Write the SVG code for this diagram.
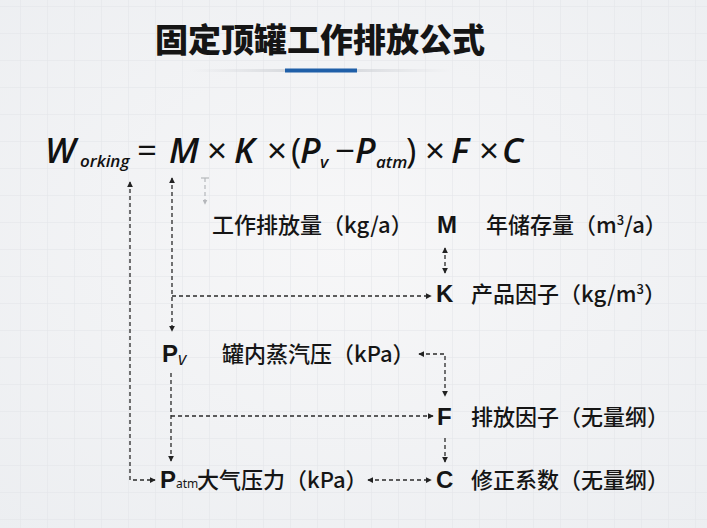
<svg xmlns="http://www.w3.org/2000/svg" width="707" height="528" viewBox="0 0 707 528">
  <defs>
    <pattern id="grid" width="27" height="27" patternUnits="userSpaceOnUse" x="20" y="6">
      <path d="M0 0H27M0 0V27" fill="none" stroke="#e2e4e8" stroke-width="1"/>
    </pattern>
    <radialGradient id="bg" cx="0.5" cy="0.45" r="0.75">
      <stop offset="0" stop-color="#f7f7f8"/>
      <stop offset="1" stop-color="#eceef1"/>
    </radialGradient>
    <linearGradient id="rule" x1="0" x2="1" y1="0" y2="0">
      <stop offset="0" stop-color="#d5d7db" stop-opacity="0"/>
      <stop offset="0.5" stop-color="#cdd0d5"/>
      <stop offset="1" stop-color="#d5d7db" stop-opacity="0"/>
    </linearGradient>
    <marker id="ah" viewBox="0 0 8 8" refX="7" refY="4" markerWidth="6" markerHeight="6" orient="auto-start-reverse" markerUnits="userSpaceOnUse">
      <path d="M0 0L8 4L0 8Z" fill="#222"/>
    </marker>
    <marker id="ahg" viewBox="0 0 8 8" refX="7" refY="4" markerWidth="5" markerHeight="5" orient="auto-start-reverse" markerUnits="userSpaceOnUse">
      <path d="M0 0L8 4L0 8Z" fill="#b5b7bb"/>
    </marker>
  </defs>
  <style>
    .t { font-family: "Noto Sans CJK SC", "Noto Sans", sans-serif; fill: #151515; }
    .title { font-size: 33px; font-weight: 900; }
    .lab { font-size: 22px; font-weight: 500; }
    .sym { font-family: "Liberation Sans", "Noto Sans", sans-serif; font-size: 24px; font-weight: bold; fill: #151515; }
    .f { font-family: "Open Sans", "Noto Sans", sans-serif; font-size: 35px; font-weight: 600; fill: #111; }
    .op { font-weight: 500; }
    .fi { font-style: italic; }
    .fs { font-family: "Open Sans", "Noto Sans", sans-serif; font-size: 17px; font-weight: 600; font-style: italic; fill: #111; }
    .c { fill: none; stroke: #2a2a2a; stroke-width: 1.3; stroke-dasharray: 4 3; }
  </style>
  <rect width="707" height="528" fill="url(#bg)"/>
  <rect width="707" height="528" fill="url(#grid)"/>

  <g id="title">
    <text class="t title" x="320" y="52" text-anchor="middle">固定顶罐工作排放公式</text>
    <rect x="190" y="69" width="262" height="3" fill="url(#rule)"/>
    <rect x="285" y="68.5" width="72" height="4" fill="#1f5fa8"/>
  </g>

  <g id="formula">
    <text class="f fi" x="45" y="163" font-size="37">W</text>
    <text class="fs" x="80" y="167">orking</text>
    <text class="f op" x="137" y="163">=</text>
    <text class="f fi" x="169" y="163">M</text>
    <text class="f op" x="207" y="163">×</text>
    <text class="f fi" x="234" y="163">K</text>
    <text class="f op" x="267" y="163">×</text>
    <text class="f op" x="291" y="163">(</text>
    <text class="f fi" x="300" y="163">P</text>
    <text class="fs" x="320" y="168">v</text>
    <text class="f op" x="335" y="163">−</text>
    <text class="f fi" x="355" y="163">P</text>
    <text class="fs" x="376" y="168">atm</text>
    <text class="f op" x="406" y="163">)</text>
    <text class="f op" x="425" y="163">×</text>
    <text class="f fi" x="451" y="163">F</text>
    <text class="f op" x="479" y="163">×</text>
    <text class="f fi" x="502" y="163">C</text>
  </g>

  <g id="connectors">
    <path class="c" d="M130 182V480H155" marker-start="url(#ah)" marker-end="url(#ah)"/>
    <path class="c" d="M172 178V331" marker-start="url(#ah)" marker-end="url(#ah)"/>
    <path class="c" d="M172 296H431" marker-end="url(#ah)"/>
    <path class="c" d="M171 373V461" marker-end="url(#ah)"/>
    <path class="c" d="M171 416H433" marker-end="url(#ah)"/>
    <path d="M205 178V204" fill="none" stroke="#b5b7bb" stroke-width="1.2" stroke-dasharray="4 3" marker-end="url(#ahg)"/>
    <path d="M201 178H209" stroke="#b5b7bb" stroke-width="1.2"/>
    <path class="c" d="M445 248V273" marker-start="url(#ah)" marker-end="url(#ah)"/>
    <path class="c" d="M419 354H445V396" marker-start="url(#ah)" marker-end="url(#ah)"/>
    <path class="c" d="M445 438V462" marker-end="url(#ah)"/>
    <path class="c" d="M368 480H431" marker-start="url(#ah)" marker-end="url(#ah)"/>
  </g>

  <g id="node-working">
    <text class="t lab" x="212" y="233">工作排放量（kg/a）</text>
  </g>
  <g id="node-M">
    <text class="sym" x="437" y="233">M</text>
    <text class="t lab" x="486" y="233">年储存量（m<tspan font-size="13" dy="-8">3</tspan><tspan dy="8">/a）</tspan></text>
  </g>
  <g id="node-K">
    <text class="sym" x="436" y="302">K</text>
    <text class="t lab" x="471" y="302">产品因子（kg/m<tspan font-size="13" dy="-8">3</tspan><tspan dy="8">）</tspan></text>
  </g>
  <g id="node-Pv">
    <text class="sym" x="162" y="362">P<tspan font-family="Open Sans, sans-serif" font-weight="normal" font-style="italic" font-size="18" dy="3">v</tspan></text>
    <text class="t lab" x="222" y="362">罐内蒸汽压（kPa）</text>
  </g>
  <g id="node-F">
    <text class="sym" x="437" y="425">F</text>
    <text class="t lab" x="471" y="425">排放因子（无量纲）</text>
  </g>
  <g id="node-Patm">
    <text class="sym" x="160" y="488">P<tspan font-family="Noto Sans, sans-serif" font-weight="normal" font-size="12">atm</tspan></text>
    <text class="t lab" x="197" y="488">大气压力（kPa）</text>
  </g>
  <g id="node-C">
    <text class="sym" x="436" y="488">C</text>
    <text class="t lab" x="471" y="488">修正系数（无量纲）</text>
  </g>
</svg>
